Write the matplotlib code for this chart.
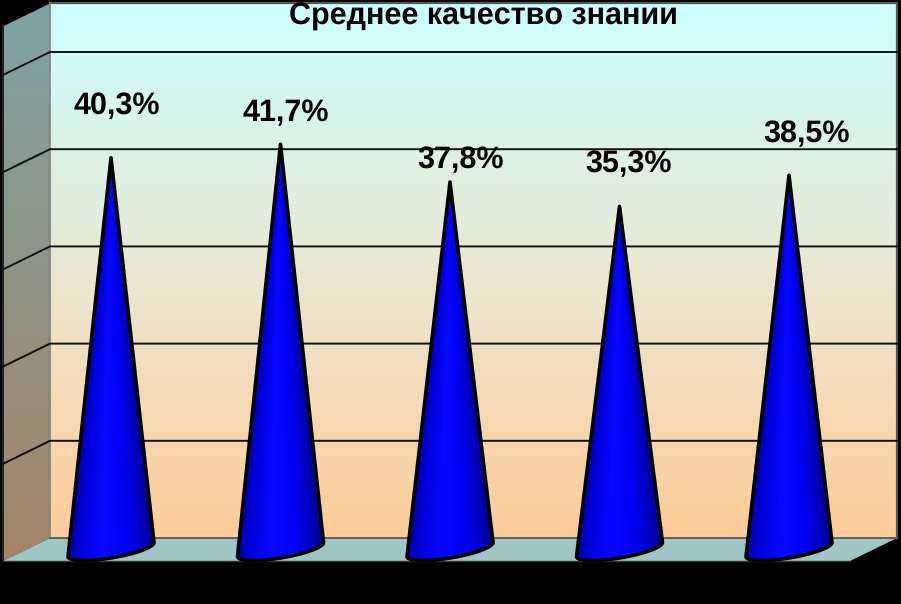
import numpy as np
import matplotlib
matplotlib.use('Agg')
import matplotlib.pyplot as plt
from matplotlib.colors import LinearSegmentedColormap
from matplotlib.patches import Polygon

plt.rcParams['text.hinting'] = 'none'
plt.rcParams['text.kerning_factor'] = 6

title = 'Среднее качество знании'
values = [40.3, 41.7, 37.8, 35.3, 38.5]
labels = ['40,3%', '41,7%', '37,8%', '35,3%', '38,5%']
grid_values = [10, 20, 30, 40, 50]

# label shift from the cone tip, in points
label_dx = [4, 4, 7.5, 6.5, 12.5]
label_dy = [26.5, 12, 5, 19.7, 19.2]

# 1 category = 169.5 px, 10 % = 97.2 px
px_x = 1 / 169.5
px_y = 10 / 97.2
x_left = -61 * px_x      # back wall, left edge
x_right = 786 * px_x     # back wall, right edge
top = 55.0               # back wall, top
depth_x = 47 * px_x
depth_y = 23 * px_y
half_w = 43 * px_x
tilt = 7 * px_y
bulge = 8.5 * px_y

fig = plt.figure(figsize=(9.01, 6.04), dpi=100, facecolor='black')
ax = fig.add_axes([0, 0, 1, 1])
ax.set_facecolor('black')
ax.axis('off')

wall_cmap = LinearSegmentedColormap.from_list(
    'wall', [(0, '#FFCC99'), (0.5, '#EAE8D2'), (1, '#CCFFFF')])
side_cmap = LinearSegmentedColormap.from_list('side', ['#A38568', '#7FA3A3'])
cone_cmap = LinearSegmentedColormap.from_list(
    'cone', [(0, '#000090'), (0.12, '#0000D8'), (0.4, '#0808FF'),
             (0.7, '#0000F0'), (0.9, '#0000B8'), (1, '#000088')])
ramp = np.linspace(0, 1, 256).reshape(-1, 1)

# back wall
ax.imshow(ramp, origin='lower', cmap=wall_cmap, aspect='auto', zorder=1,
          extent=(x_left, x_right, 0, top))
ax.plot([x_left, x_right, x_right], [top, top, 0], color='#555555', lw=1.6, zorder=2)
ax.plot([x_left, x_left], [0, top], color='#808080', lw=1.2, zorder=3)

# left wall
side = Polygon([(x_left, 0), (x_left, top), (x_left - depth_x, top - depth_y),
                (x_left - depth_x, -depth_y)], fc='none', ec='none', zorder=3)
ax.add_patch(side)
im = ax.imshow(ramp, origin='lower', cmap=side_cmap, aspect='auto', zorder=2,
               extent=(x_left - depth_x, x_left, -depth_y, top))
im.set_clip_path(side)
ax.plot([x_left - depth_x, x_left - depth_x], [-depth_y, top - depth_y],
        color='#222222', lw=1.4, zorder=3)

# floor
ax.add_patch(Polygon([(x_left, 0), (x_right, 0), (x_right - depth_x, -depth_y),
                      (x_left - depth_x, -depth_y)], fc='#9FC5C5', ec='none', zorder=2))
ax.plot([x_left, x_right], [0, 0], color='#606060', lw=1.4, zorder=3)
ax.plot([x_left - depth_x, x_right - depth_x], [-depth_y, -depth_y], color='#333333', lw=1, zorder=3)

# gridlines
for g in grid_values:
    ax.plot([x_left - depth_x, x_left, x_right], [g - depth_y, g, g],
            color='#101010', lw=1.4, zorder=4)

# cones
base_y = -depth_y / 2
t = np.linspace(np.pi, 2 * np.pi, 60)
for i, v in enumerate(values):
    tip = base_y + v
    # lower half of the tilted base ellipse, left end to right end
    arc_x = i + half_w * np.cos(t)
    arc_y = base_y + tilt * np.cos(t) + bulge * np.sin(t)
    outline = np.vstack([[i, tip], np.column_stack([arc_x, arc_y])])
    cone = Polygon(outline, closed=True, fc='none', ec='black', lw=2.6,
                   joinstyle='round', zorder=6)
    ax.add_patch(cone)
    gx = np.linspace(i - half_w - 0.02, i + half_w + 0.02, 300)
    gy = np.linspace(arc_y.min() - 0.5, tip, 500)
    xx, yy = np.meshgrid(gx, gy)
    width = half_w * np.clip((tip - yy) / (tip - base_y), 0.001, 1.2)
    shade = np.clip((xx - i) / width * 0.5 + 0.5, 0, 1)
    img = ax.imshow(shade, origin='lower', cmap=cone_cmap, aspect='auto', zorder=5,
                    vmin=0, vmax=1, extent=(gx[0], gx[-1], gy[0], gy[-1]))
    img.set_clip_path(cone)
    ax.annotate(labels[i], (i, tip), xytext=(label_dx[i], label_dy[i]),
                textcoords='offset points', ha='center', va='bottom',
                family='Liberation Sans', weight='bold', fontsize=22,
                color='black', zorder=7)

ax.text(2.2, 53.65, title, ha='center', va='center', family='Liberation Sans',
        weight='bold', fontsize=22, color='black', zorder=7)

ax.set_xlim(-111 * px_x, 790 * px_x)
ax.set_ylim((538 - 604) * px_y, 538 * px_y)

plt.savefig('out.png', dpi=100, facecolor='black')
